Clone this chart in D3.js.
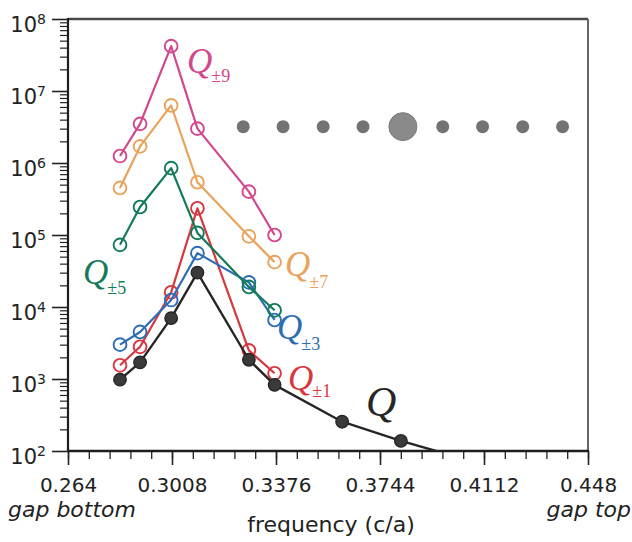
<!DOCTYPE html>
<html><head><meta charset="utf-8">
<script src="https://cdn.jsdelivr.net/npm/d3@7"></script>
<style>body{margin:0;background:#fff}svg{display:block}</style>
</head><body><svg id="c" width="632" height="542"></svg>
<script>
// ---- data ----
const freqs      = [0.2824, 0.2895, 0.3005, 0.3098, 0.3280, 0.3371];
const freqsQ     = [0.2824, 0.2895, 0.3005, 0.3098, 0.3280, 0.3371, 0.3610, 0.3818, 0.4030];
const valQ9      = [1.25e6, 3.5e6, 4.2e7, 3.0e6, 4.0e5, 1.0e5];
const valQ7      = [4.5e5, 1.7e6, 6.3e6, 5.4e5, 9.6e4, 4.2e4];
const valQ5      = [7.3e4, 2.45e5, 8.5e5, 1.07e5, 1.9e4, 9.0e3];
const valQ3      = [3.0e3, 4.5e3, 1.25e4, 5.6e4, 2.2e4, 6.6e3];
const valQ1      = [1.55e3, 2.8e3, 1.6e4, 2.35e5, 2.5e3, 1.2e3];
const valQ       = [980, 1.7e3, 7.0e3, 3.0e4, 1.85e3, 830, 255, 138, 80];
const xTicks     = [0.264, 0.3008, 0.3376, 0.3744, 0.4112, 0.448];
const yDecades   = [2, 3, 4, 5, 6, 7, 8];
const dotFreqs   = [0.3260, 0.3401, 0.3543, 0.3684, 0.3825, 0.3966, 0.4107, 0.4249, 0.4390];
const dotKinds   = ["hole","hole","hole","hole","defect","hole","hole","hole","hole"];
const dotLevel   = 3.2e6;

const W = 632, H = 542;
const m = {left: 68, right: 588, top: 19, bottom: 451};
const svg = d3.select("#c");
const x = d3.scaleLinear().domain([0.264, 0.448]).range([m.left, m.right]);
const y = d3.scaleLog().domain([1e2, 1e8]).range([m.bottom, m.top]);

svg.append("rect").attr("width", W).attr("height", H).attr("fill", "#fff");

// clip
svg.append("clipPath").attr("id", "clip").append("rect")
  .attr("x", m.left).attr("y", m.top).attr("width", m.right - m.left).attr("height", m.bottom - m.top);

// frame (top & right)
svg.append("line").attr("x1", m.left).attr("x2", m.right).attr("y1", m.top).attr("y2", m.top)
  .attr("stroke", "#4a4a4a").attr("stroke-width", 2.6);
svg.append("line").attr("x1", m.right).attr("x2", m.right).attr("y1", m.top).attr("y2", m.bottom)
  .attr("stroke", "#666").attr("stroke-width", 2);

// x axis
const xMinor = d3.range(0, 26).map(i => 0.264 + i * 0.00736);
const gx = svg.append("g").attr("transform", `translate(0,${m.bottom})`);
gx.call(d3.axisBottom(x).tickValues(xMinor).tickSize(8).tickFormat(""))
  .call(g => g.select(".domain").remove())
  .call(g => g.selectAll("line").attr("stroke", "#222").attr("stroke-width", 1.3));
const gx2 = svg.append("g").attr("transform", `translate(0,${m.bottom})`);
gx2.call(d3.axisBottom(x).tickValues(xTicks).tickSize(14).tickPadding(12)
    .tickFormat(d => String(d)))
  .call(g => g.select(".domain").remove())
  .call(g => g.selectAll("line").attr("stroke", "#222").attr("stroke-width", 1.6))
  .call(g => g.selectAll("text").attr("font-family", "DejaVu Sans").attr("font-size", 20)
      .attr("fill", "#222").attr("dy", null).attr("y", 41));

// y axis
const yMinor = [];
for (let e = 2; e < 8; e++) for (let k = 2; k <= 9; k++) yMinor.push(k * Math.pow(10, e));
const gy = svg.append("g").attr("transform", `translate(${m.left},0)`);
gy.call(d3.axisLeft(y).tickValues(yMinor).tickSize(8).tickFormat(""))
  .call(g => g.select(".domain").remove())
  .call(g => g.selectAll("line").attr("stroke", "#222").attr("stroke-width", 1.2));
const gy2 = svg.append("g").attr("transform", `translate(${m.left},0)`);
gy2.call(d3.axisLeft(y).tickValues(yDecades.map(e => Math.pow(10, e))).tickSize(16).tickFormat(""))
  .call(g => g.select(".domain").remove())
  .call(g => g.selectAll("line").attr("stroke", "#222").attr("stroke-width", 1.6));
const yl = svg.append("g");
yDecades.forEach(e => {
  const t = yl.append("text").attr("x", 46).attr("y", y(Math.pow(10, e)) + 13)
    .attr("text-anchor", "end").attr("font-family", "DejaVu Sans").attr("font-size", 21).attr("fill", "#222");
  t.append("tspan").text("10");
  t.append("tspan").attr("font-size", 14).attr("dy", -8).text(String(e));
});

// axis lines
svg.append("line").attr("x1", m.left).attr("x2", m.left).attr("y1", m.top - 1).attr("y2", m.bottom)
  .attr("stroke", "#1e1e1e").attr("stroke-width", 2.2);
svg.append("line").attr("x1", m.left).attr("x2", m.right + 1).attr("y1", m.bottom).attr("y2", m.bottom)
  .attr("stroke", "#1e1e1e").attr("stroke-width", 2.6);

// axis titles
svg.append("text").attr("x", 331).attr("y", 532).attr("text-anchor", "middle")
  .attr("font-family", "DejaVu Sans").attr("font-size", 22).attr("fill", "#222").text("frequency (c/a)");
svg.append("text").attr("x", 8).attr("y", 517).attr("font-family", "DejaVu Sans").attr("font-style", "italic")
  .attr("font-size", 22).attr("fill", "#222").text("gap bottom");
svg.append("text").attr("x", 631).attr("y", 517).attr("text-anchor", "end").attr("font-family", "DejaVu Sans")
  .attr("font-style", "italic").attr("font-size", 22).attr("fill", "#222").text("gap top");

// row of holes (cavity sketch)
svg.append("g").selectAll("circle").data(dotFreqs.map((f, i) => ({f, k: dotKinds[i]})))
  .join("circle").attr("cx", d => x(d.f)).attr("cy", y(dotLevel))
  .attr("r", d => d.k === "defect" ? 14 : 6.5)
  .attr("fill", d => d.k === "defect" ? "#8a8a8a" : "#737373")
  .attr("stroke", d => d.k === "defect" ? "#7a7a7a" : "none").attr("stroke-width", 1);

// series
const series = [
  {name: "±9", f: freqs, v: valQ9, color: "#d2478d"},
  {name: "±7", f: freqs, v: valQ7, color: "#e9a35c"},
  {name: "±1", f: freqs, v: valQ1, color: "#d7373f"},
  {name: "±3", f: freqs, v: valQ3, color: "#2d6db5"},
  {name: "±5", f: freqs, v: valQ5, color: "#147a5c"},
];
const line = d3.line().x(d => x(d[0])).y(d => y(d[1]));
const plot = svg.append("g").attr("clip-path", "url(#clip)");
series.forEach(s => {
  const pts = s.f.map((f, i) => [f, s.v[i]]);
  plot.append("path").datum(pts).attr("d", line).attr("fill", "none")
    .attr("stroke", s.color).attr("stroke-width", 2.2).attr("stroke-linejoin", "round");
  plot.append("g").selectAll("circle").data(pts).join("circle")
    .attr("cx", d => x(d[0])).attr("cy", d => y(d[1])).attr("r", 6.4)
    .attr("fill", "none").attr("stroke", s.color).attr("stroke-width", 1.9);
});
const ptsQ = freqsQ.map((f, i) => [f, valQ[i]]);
plot.append("path").datum(ptsQ).attr("d", line).attr("fill", "none")
  .attr("stroke", "#262626").attr("stroke-width", 2.4).attr("stroke-linejoin", "round");
plot.append("g").selectAll("circle").data(ptsQ).join("circle")
  .attr("cx", d => x(d[0])).attr("cy", d => y(d[1])).attr("r", 6.3)
  .attr("fill", "#3a3a3a").attr("stroke", "#222").attr("stroke-width", 1.2);

// labels
const labels = [
  {sub: "±9", color: "#d2478d", x: 187, y: 73, sy: 82},
  {sub: "±7", color: "#e9a35c", x: 285, y: 276, sy: 288},
  {sub: "±5", color: "#147a5c", x: 83,  y: 284, sy: 294},
  {sub: "±3", color: "#2d6db5", x: 277, y: 339, sy: 350},
  {sub: "±1", color: "#d7373f", x: 288, y: 390, sy: 397},
];
labels.forEach(l => {
  const t = svg.append("text").attr("x", l.x).attr("y", l.y).attr("font-family", "Liberation Serif")
    .attr("fill", l.color);
  t.append("tspan").attr("font-style", "italic").attr("font-size", 35).text("Q");
  t.append("tspan").attr("font-size", 18).attr("dx", -1).attr("dy", l.sy - l.y).text(l.sub);
});
svg.append("text").attr("x", 366).attr("y", 416).attr("font-family", "Liberation Serif")
  .attr("font-style", "italic").attr("font-size", 42).attr("fill", "#262626").text("Q");
</script></body></html>
